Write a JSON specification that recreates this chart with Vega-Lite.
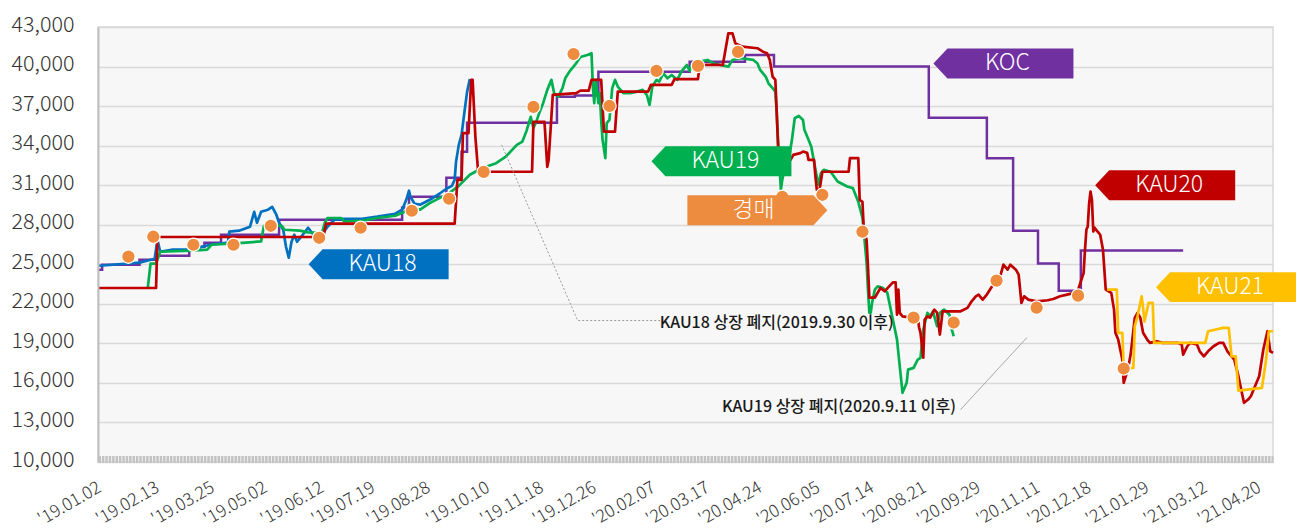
{
  "$schema": "https://vega.github.io/schema/vega-lite/v6.json",
  "width": 1175,
  "height": 435,
  "autosize": {"type": "none"},
  "padding": {"left": 98, "top": 27, "right": 24, "bottom": 69},
  "background": "white",
  "config": {
    "font": "Noto Sans CJK KR",
    "view": {"fill": "#f7f7f7", "stroke": "#d9d9d9", "strokeWidth": 1.5}
  },
  "datasets": {
    "koc": [
      {"date": "2019-01-02", "price": 24590}, {"date": "2019-01-04", "price": 24970},
      {"date": "2019-01-31", "price": 25350}, {"date": "2019-02-12", "price": 25650},
      {"date": "2019-03-08", "price": 26330}, {"date": "2019-03-19", "price": 26640},
      {"date": "2019-03-31", "price": 27240}, {"date": "2019-05-12", "price": 28380},
      {"date": "2019-08-09", "price": 29290}, {"date": "2019-08-14", "price": 30120},
      {"date": "2019-09-10", "price": 31560}, {"date": "2019-09-21", "price": 33530},
      {"date": "2019-09-25", "price": 35730}, {"date": "2019-11-29", "price": 37700},
      {"date": "2019-12-12", "price": 37800}, {"date": "2019-12-29", "price": 39610},
      {"date": "2020-03-04", "price": 40370}, {"date": "2020-04-13", "price": 40880},
      {"date": "2020-05-04", "price": 40000}, {"date": "2020-08-24", "price": 36110},
      {"date": "2020-10-05", "price": 33050}, {"date": "2020-10-24", "price": 27550},
      {"date": "2020-11-11", "price": 25050}, {"date": "2020-11-26", "price": 23000},
      {"date": "2020-12-12", "price": 26050}, {"date": "2021-02-24", "price": 26050}
    ],
    "kau18": [
      {"date": "2019-01-02", "price": 24890}, {"date": "2019-01-31", "price": 25120},
      {"date": "2019-02-11", "price": 25420}, {"date": "2019-02-13", "price": 26860},
      {"date": "2019-02-15", "price": 25950}, {"date": "2019-02-24", "price": 26110},
      {"date": "2019-03-08", "price": 26110}, {"date": "2019-03-15", "price": 26260},
      {"date": "2019-03-23", "price": 26480}, {"date": "2019-04-05", "price": 26640},
      {"date": "2019-04-06", "price": 27470}, {"date": "2019-04-13", "price": 27550},
      {"date": "2019-04-17", "price": 27700}, {"date": "2019-04-21", "price": 27850},
      {"date": "2019-04-24", "price": 28980}, {"date": "2019-04-26", "price": 28150},
      {"date": "2019-04-29", "price": 28980}, {"date": "2019-05-04", "price": 29140},
      {"date": "2019-05-07", "price": 29360}, {"date": "2019-05-10", "price": 28760},
      {"date": "2019-05-12", "price": 28150}, {"date": "2019-05-15", "price": 27620},
      {"date": "2019-05-17", "price": 26330}, {"date": "2019-05-19", "price": 25500},
      {"date": "2019-05-21", "price": 26710}, {"date": "2019-05-23", "price": 27240},
      {"date": "2019-05-25", "price": 26710}, {"date": "2019-05-28", "price": 27090},
      {"date": "2019-06-02", "price": 27770}, {"date": "2019-06-07", "price": 27090},
      {"date": "2019-06-12", "price": 27240}, {"date": "2019-06-16", "price": 27850},
      {"date": "2019-06-21", "price": 28380}, {"date": "2019-06-28", "price": 28450},
      {"date": "2019-07-11", "price": 28450}, {"date": "2019-07-22", "price": 28610},
      {"date": "2019-08-04", "price": 28830}, {"date": "2019-08-09", "price": 29140},
      {"date": "2019-08-12", "price": 29890}, {"date": "2019-08-14", "price": 30580},
      {"date": "2019-08-15", "price": 30120}, {"date": "2019-08-18", "price": 29590},
      {"date": "2019-08-22", "price": 29520}, {"date": "2019-08-29", "price": 29890},
      {"date": "2019-09-05", "price": 30350}, {"date": "2019-09-10", "price": 30730},
      {"date": "2019-09-14", "price": 30950}, {"date": "2019-09-16", "price": 31410},
      {"date": "2019-09-17", "price": 32770}, {"date": "2019-09-19", "price": 34060},
      {"date": "2019-09-21", "price": 34820}, {"date": "2019-09-23", "price": 36480},
      {"date": "2019-09-25", "price": 38080}, {"date": "2019-09-27", "price": 39060}
    ],
    "kau19": [
      {"date": "2019-02-06", "price": 23200}, {"date": "2019-02-08", "price": 25050},
      {"date": "2019-02-12", "price": 25050}, {"date": "2019-02-15", "price": 25950},
      {"date": "2019-03-10", "price": 26030}, {"date": "2019-03-21", "price": 26110},
      {"date": "2019-03-24", "price": 26480}, {"date": "2019-04-13", "price": 26610},
      {"date": "2019-04-29", "price": 26730}, {"date": "2019-05-01", "price": 27920},
      {"date": "2019-05-14", "price": 27920}, {"date": "2019-05-16", "price": 27620},
      {"date": "2019-05-27", "price": 27550}, {"date": "2019-06-02", "price": 27420},
      {"date": "2019-06-12", "price": 27370}, {"date": "2019-06-14", "price": 28130},
      {"date": "2019-06-16", "price": 28510}, {"date": "2019-06-26", "price": 28510},
      {"date": "2019-06-28", "price": 28250}, {"date": "2019-07-11", "price": 28300},
      {"date": "2019-07-22", "price": 28510}, {"date": "2019-08-04", "price": 28680},
      {"date": "2019-08-11", "price": 28980}, {"date": "2019-08-14", "price": 29515},
      {"date": "2019-08-18", "price": 29290}, {"date": "2019-08-22", "price": 29140},
      {"date": "2019-08-29", "price": 29640}, {"date": "2019-09-05", "price": 30020},
      {"date": "2019-09-12", "price": 30400}, {"date": "2019-09-19", "price": 30950},
      {"date": "2019-09-27", "price": 31790}, {"date": "2019-10-06", "price": 32300},
      {"date": "2019-10-16", "price": 32670}, {"date": "2019-10-23", "price": 33170},
      {"date": "2019-10-31", "price": 34060}, {"date": "2019-11-04", "price": 34310},
      {"date": "2019-11-07", "price": 35120}, {"date": "2019-11-10", "price": 36180},
      {"date": "2019-11-12", "price": 35350}, {"date": "2019-11-14", "price": 35800},
      {"date": "2019-11-16", "price": 36410}, {"date": "2019-11-19", "price": 37220},
      {"date": "2019-11-22", "price": 38230}, {"date": "2019-11-25", "price": 38990},
      {"date": "2019-11-27", "price": 37980}, {"date": "2019-11-30", "price": 37720},
      {"date": "2019-12-03", "price": 38360}, {"date": "2019-12-05", "price": 39110},
      {"date": "2019-12-08", "price": 39610}, {"date": "2019-12-12", "price": 40120},
      {"date": "2019-12-16", "price": 40730}, {"date": "2019-12-21", "price": 40880},
      {"date": "2019-12-24", "price": 41010}, {"date": "2019-12-25", "price": 38480},
      {"date": "2019-12-26", "price": 37220}, {"date": "2019-12-27", "price": 38990},
      {"date": "2019-12-29", "price": 37220}, {"date": "2019-12-30", "price": 37980},
      {"date": "2019-12-31", "price": 35950}, {"date": "2020-01-01", "price": 34440},
      {"date": "2020-01-03", "price": 33050}, {"date": "2020-01-04", "price": 35700},
      {"date": "2020-01-06", "price": 35950}, {"date": "2020-01-08", "price": 38360},
      {"date": "2020-01-10", "price": 38990}, {"date": "2020-01-12", "price": 38480},
      {"date": "2020-01-16", "price": 37980}, {"date": "2020-01-21", "price": 37980},
      {"date": "2020-01-26", "price": 38100}, {"date": "2020-01-30", "price": 38230},
      {"date": "2020-02-02", "price": 37850}, {"date": "2020-02-04", "price": 37090},
      {"date": "2020-02-06", "price": 38480}, {"date": "2020-02-09", "price": 38990},
      {"date": "2020-02-11", "price": 38860}, {"date": "2020-02-14", "price": 39490},
      {"date": "2020-02-17", "price": 39110}, {"date": "2020-02-20", "price": 39360},
      {"date": "2020-02-24", "price": 38990}, {"date": "2020-02-27", "price": 39610},
      {"date": "2020-03-02", "price": 40120}, {"date": "2020-03-04", "price": 39670},
      {"date": "2020-03-06", "price": 40250}, {"date": "2020-03-11", "price": 40370},
      {"date": "2020-03-17", "price": 40500}, {"date": "2020-03-21", "price": 40250},
      {"date": "2020-03-26", "price": 40120}, {"date": "2020-04-01", "price": 39990},
      {"date": "2020-04-04", "price": 40500}, {"date": "2020-04-10", "price": 40630},
      {"date": "2020-04-19", "price": 40500}, {"date": "2020-04-22", "price": 40250},
      {"date": "2020-04-24", "price": 39740}, {"date": "2020-04-28", "price": 39240},
      {"date": "2020-04-30", "price": 38730}, {"date": "2020-05-03", "price": 38360},
      {"date": "2020-05-05", "price": 38100}, {"date": "2020-05-06", "price": 36480},
      {"date": "2020-05-07", "price": 34210}, {"date": "2020-05-09", "price": 30650},
      {"date": "2020-05-10", "price": 31410}, {"date": "2020-05-12", "price": 32390},
      {"date": "2020-05-15", "price": 33150}, {"date": "2020-05-17", "price": 34440},
      {"date": "2020-05-19", "price": 36080}, {"date": "2020-05-22", "price": 36260},
      {"date": "2020-05-25", "price": 35950}, {"date": "2020-05-26", "price": 35200},
      {"date": "2020-05-29", "price": 34440}, {"date": "2020-05-31", "price": 33910},
      {"date": "2020-06-02", "price": 32770}, {"date": "2020-06-05", "price": 31030},
      {"date": "2020-06-07", "price": 31920}, {"date": "2020-06-09", "price": 32170},
      {"date": "2020-06-14", "price": 32020}, {"date": "2020-06-19", "price": 31280},
      {"date": "2020-06-26", "price": 30900}, {"date": "2020-06-30", "price": 30780},
      {"date": "2020-07-04", "price": 29740}, {"date": "2020-07-07", "price": 28530},
      {"date": "2020-07-08", "price": 27470}, {"date": "2020-07-10", "price": 25120},
      {"date": "2020-07-11", "price": 23080}, {"date": "2020-07-12", "price": 21330},
      {"date": "2020-07-13", "price": 21330}, {"date": "2020-07-14", "price": 22090},
      {"date": "2020-07-16", "price": 23080}, {"date": "2020-07-18", "price": 23330},
      {"date": "2020-07-22", "price": 23200}, {"date": "2020-07-25", "price": 22830},
      {"date": "2020-07-27", "price": 21810}, {"date": "2020-07-29", "price": 20800},
      {"date": "2020-08-01", "price": 19290}, {"date": "2020-08-03", "price": 17260},
      {"date": "2020-08-05", "price": 15250}, {"date": "2020-08-08", "price": 16010},
      {"date": "2020-08-09", "price": 17010}, {"date": "2020-08-13", "price": 17140},
      {"date": "2020-08-16", "price": 17770}, {"date": "2020-08-18", "price": 17900},
      {"date": "2020-08-20", "price": 20045}, {"date": "2020-08-23", "price": 21310},
      {"date": "2020-08-25", "price": 21050}, {"date": "2020-08-27", "price": 21430},
      {"date": "2020-08-30", "price": 20300}, {"date": "2020-09-01", "price": 21310},
      {"date": "2020-09-04", "price": 21560}, {"date": "2020-09-08", "price": 21180},
      {"date": "2020-09-09", "price": 20300}, {"date": "2020-09-11", "price": 19540}
    ],
    "kau20": [
      {"date": "2019-01-02", "price": 23200}, {"date": "2019-02-12", "price": 23200},
      {"date": "2019-02-13", "price": 27070}, {"date": "2019-06-13", "price": 27070},
      {"date": "2019-06-15", "price": 28080}, {"date": "2019-09-16", "price": 28080},
      {"date": "2019-09-18", "price": 31410}, {"date": "2019-09-21", "price": 31410},
      {"date": "2019-09-22", "price": 34950}, {"date": "2019-09-26", "price": 34950},
      {"date": "2019-09-28", "price": 38990}, {"date": "2019-09-29", "price": 38990},
      {"date": "2019-10-01", "price": 34670}, {"date": "2019-10-03", "price": 32020},
      {"date": "2019-11-11", "price": 32020}, {"date": "2019-11-12", "price": 35800},
      {"date": "2019-11-20", "price": 35800}, {"date": "2019-11-22", "price": 32390},
      {"date": "2019-11-23", "price": 32920}, {"date": "2019-11-26", "price": 37850},
      {"date": "2019-12-13", "price": 37980}, {"date": "2019-12-16", "price": 38170},
      {"date": "2019-12-22", "price": 38170}, {"date": "2019-12-24", "price": 38990},
      {"date": "2019-12-31", "price": 38990}, {"date": "2020-01-02", "price": 35070},
      {"date": "2020-01-10", "price": 35070}, {"date": "2020-01-12", "price": 38100},
      {"date": "2020-02-03", "price": 38100}, {"date": "2020-02-05", "price": 38610},
      {"date": "2020-02-20", "price": 38610}, {"date": "2020-02-22", "price": 39040},
      {"date": "2020-03-10", "price": 39040}, {"date": "2020-03-11", "price": 39870},
      {"date": "2020-03-14", "price": 40120}, {"date": "2020-03-28", "price": 40120},
      {"date": "2020-04-01", "price": 42520}, {"date": "2020-04-04", "price": 42520},
      {"date": "2020-04-06", "price": 41770}, {"date": "2020-04-11", "price": 41510},
      {"date": "2020-04-22", "price": 41390}, {"date": "2020-04-26", "price": 41130},
      {"date": "2020-04-29", "price": 41010}, {"date": "2020-05-01", "price": 40500},
      {"date": "2020-05-03", "price": 39240}, {"date": "2020-05-05", "price": 38990},
      {"date": "2020-05-07", "price": 33930}, {"date": "2020-05-08", "price": 32545},
      {"date": "2020-05-16", "price": 32920}, {"date": "2020-05-18", "price": 33300},
      {"date": "2020-05-23", "price": 33430}, {"date": "2020-05-25", "price": 33550},
      {"date": "2020-05-28", "price": 33450}, {"date": "2020-05-29", "price": 32920},
      {"date": "2020-06-02", "price": 32920}, {"date": "2020-06-03", "price": 31640},
      {"date": "2020-06-04", "price": 30650}, {"date": "2020-06-06", "price": 30650},
      {"date": "2020-06-08", "price": 32020}, {"date": "2020-06-27", "price": 32020},
      {"date": "2020-06-28", "price": 33050}, {"date": "2020-07-04", "price": 33050},
      {"date": "2020-07-05", "price": 29890}, {"date": "2020-07-07", "price": 29740},
      {"date": "2020-07-08", "price": 27620}, {"date": "2020-07-10", "price": 26860},
      {"date": "2020-07-11", "price": 24820}, {"date": "2020-07-12", "price": 22470},
      {"date": "2020-07-16", "price": 22470}, {"date": "2020-07-20", "price": 23200},
      {"date": "2020-07-23", "price": 22950}, {"date": "2020-07-29", "price": 23630},
      {"date": "2020-07-31", "price": 23630}, {"date": "2020-08-01", "price": 21180},
      {"date": "2020-08-02", "price": 23080}, {"date": "2020-08-03", "price": 21310},
      {"date": "2020-08-05", "price": 21050}, {"date": "2020-08-13", "price": 20930},
      {"date": "2020-08-16", "price": 20950}, {"date": "2020-08-17", "price": 20200},
      {"date": "2020-08-18", "price": 19800}, {"date": "2020-08-20", "price": 17920},
      {"date": "2020-08-21", "price": 20800}, {"date": "2020-08-23", "price": 21050},
      {"date": "2020-08-25", "price": 20950}, {"date": "2020-08-28", "price": 21560},
      {"date": "2020-08-30", "price": 21330}, {"date": "2020-09-01", "price": 19670},
      {"date": "2020-09-03", "price": 21430}, {"date": "2020-09-08", "price": 21430},
      {"date": "2020-09-16", "price": 21430}, {"date": "2020-09-21", "price": 21690},
      {"date": "2020-09-24", "price": 22190}, {"date": "2020-09-27", "price": 22570},
      {"date": "2020-09-29", "price": 22700}, {"date": "2020-10-02", "price": 22320},
      {"date": "2020-10-05", "price": 22700}, {"date": "2020-10-11", "price": 23700},
      {"date": "2020-10-15", "price": 24210}, {"date": "2020-10-17", "price": 24970},
      {"date": "2020-10-20", "price": 24590}, {"date": "2020-10-22", "price": 24970},
      {"date": "2020-10-26", "price": 24590}, {"date": "2020-10-28", "price": 24210},
      {"date": "2020-10-30", "price": 22070}, {"date": "2020-11-01", "price": 22570},
      {"date": "2020-11-04", "price": 22320}, {"date": "2020-11-10", "price": 22190},
      {"date": "2020-11-18", "price": 22270}, {"date": "2020-11-22", "price": 22370},
      {"date": "2020-11-27", "price": 22570}, {"date": "2020-12-02", "price": 22700},
      {"date": "2020-12-07", "price": 22830}, {"date": "2020-12-10", "price": 23080},
      {"date": "2020-12-12", "price": 23700}, {"date": "2020-12-14", "price": 24340},
      {"date": "2020-12-15", "price": 26110}, {"date": "2020-12-16", "price": 27620},
      {"date": "2020-12-17", "price": 27870}, {"date": "2020-12-18", "price": 29640},
      {"date": "2020-12-19", "price": 30520}, {"date": "2020-12-20", "price": 29900},
      {"date": "2020-12-21", "price": 27490}, {"date": "2020-12-22", "price": 27770},
      {"date": "2020-12-24", "price": 27490}, {"date": "2020-12-26", "price": 27240},
      {"date": "2020-12-28", "price": 26110}, {"date": "2020-12-29", "price": 24590},
      {"date": "2020-12-30", "price": 23080}, {"date": "2021-01-03", "price": 22830},
      {"date": "2021-01-05", "price": 21560}, {"date": "2021-01-06", "price": 19800},
      {"date": "2021-01-08", "price": 19290}, {"date": "2021-01-11", "price": 17770},
      {"date": "2021-01-12", "price": 16010}, {"date": "2021-01-15", "price": 17010},
      {"date": "2021-01-17", "price": 18150}, {"date": "2021-01-18", "price": 19040},
      {"date": "2021-01-20", "price": 20930}, {"date": "2021-01-22", "price": 21310},
      {"date": "2021-01-24", "price": 20950}, {"date": "2021-01-26", "price": 19800},
      {"date": "2021-01-29", "price": 19290}, {"date": "2021-01-31", "price": 19040},
      {"date": "2021-02-05", "price": 19160}, {"date": "2021-02-09", "price": 19040},
      {"date": "2021-02-20", "price": 19040}, {"date": "2021-02-23", "price": 18910},
      {"date": "2021-02-24", "price": 18150}, {"date": "2021-02-27", "price": 18780},
      {"date": "2021-03-01", "price": 19040}, {"date": "2021-03-06", "price": 18910},
      {"date": "2021-03-08", "price": 18400}, {"date": "2021-03-11", "price": 18020},
      {"date": "2021-03-14", "price": 18400}, {"date": "2021-03-18", "price": 18780},
      {"date": "2021-03-22", "price": 19040}, {"date": "2021-03-25", "price": 19040},
      {"date": "2021-03-28", "price": 18400}, {"date": "2021-04-02", "price": 17770},
      {"date": "2021-04-05", "price": 16510}, {"date": "2021-04-07", "price": 15500},
      {"date": "2021-04-09", "price": 14490}, {"date": "2021-04-12", "price": 14740},
      {"date": "2021-04-14", "price": 14990}, {"date": "2021-04-16", "price": 15500},
      {"date": "2021-04-20", "price": 16510}, {"date": "2021-04-23", "price": 18530},
      {"date": "2021-04-26", "price": 19920}, {"date": "2021-04-28", "price": 18400},
      {"date": "2021-04-30", "price": 18280}
    ],
    "kau21": [
      {"date": "2020-12-31", "price": 23080}, {"date": "2021-01-07", "price": 23080},
      {"date": "2021-01-08", "price": 19800}, {"date": "2021-01-11", "price": 19800},
      {"date": "2021-01-12", "price": 17140}, {"date": "2021-01-19", "price": 17140},
      {"date": "2021-01-20", "price": 20300}, {"date": "2021-01-22", "price": 21050},
      {"date": "2021-01-25", "price": 22570}, {"date": "2021-01-26", "price": 21710},
      {"date": "2021-01-27", "price": 20650}, {"date": "2021-01-30", "price": 22070},
      {"date": "2021-02-02", "price": 22070}, {"date": "2021-02-03", "price": 19040},
      {"date": "2021-03-12", "price": 19040}, {"date": "2021-03-14", "price": 19920},
      {"date": "2021-03-25", "price": 20170}, {"date": "2021-03-29", "price": 20170},
      {"date": "2021-03-31", "price": 18020}, {"date": "2021-04-03", "price": 18020},
      {"date": "2021-04-05", "price": 15420}, {"date": "2021-04-22", "price": 15630},
      {"date": "2021-04-25", "price": 17770}, {"date": "2021-04-27", "price": 19920},
      {"date": "2021-04-30", "price": 19920}
    ],
    "auctions": [
      {"date": "2019-01-23", "price": 25580}, {"date": "2019-02-10", "price": 27090},
      {"date": "2019-03-11", "price": 26480}, {"date": "2019-04-09", "price": 26480},
      {"date": "2019-05-06", "price": 27920}, {"date": "2019-06-10", "price": 27010},
      {"date": "2019-07-10", "price": 27770}, {"date": "2019-08-16", "price": 29060},
      {"date": "2019-09-12", "price": 29970}, {"date": "2019-10-07", "price": 32010},
      {"date": "2019-11-12", "price": 36940}, {"date": "2019-12-11", "price": 40950},
      {"date": "2020-01-06", "price": 37010}, {"date": "2020-02-09", "price": 39670},
      {"date": "2020-03-10", "price": 40050}, {"date": "2020-04-08", "price": 41110},
      {"date": "2020-05-10", "price": 30120}, {"date": "2020-06-08", "price": 30270},
      {"date": "2020-07-07", "price": 27470}, {"date": "2020-08-13", "price": 20950},
      {"date": "2020-09-11", "price": 20580}, {"date": "2020-10-12", "price": 23760},
      {"date": "2020-11-10", "price": 21710}, {"date": "2020-12-10", "price": 22620},
      {"date": "2021-01-12", "price": 17090}
    ],
    "leaders": [
      {"seg": "a", "date": "2019-10-20", "price": 34060},
      {"seg": "a", "date": "2019-12-14", "price": 20730},
      {"seg": "a", "date": "2020-02-12", "price": 20730},
      {"seg": "b", "date": "2020-09-16", "price": 13980},
      {"seg": "b", "date": "2020-11-03", "price": 19440}
    ],
    "notes": [
      {"date": "2020-05-06", "price": 20575, "text": "KAU18 상장 폐지(2019.9.30 이후)"},
      {"date": "2020-06-20", "price": 14135, "text": "KAU19 상장 폐지(2020.9.11 이후)"}
    ],
    "tags": [
      {"date": "2019-07-23", "price": 25000, "label": "KAU18", "dir": "left"},
      {"date": "2020-03-27", "price": 32810, "label": "KAU19", "dir": "left"},
      {"date": "2020-04-22", "price": 29100, "label": "경매", "dir": "right"},
      {"date": "2020-10-17", "price": 40235, "label": "KOC", "dir": "left"},
      {"date": "2021-02-11", "price": 30990, "label": "KAU20", "dir": "left"},
      {"date": "2021-03-27", "price": 23265, "label": "KAU21", "dir": "left"}
    ]
  },
  "encoding": {
    "x": {
      "field": "date",
      "type": "temporal",
      "scale": {
        "type": "utc",
        "domain": [
          {"year": 2019, "month": 1, "date": 1, "utc": true},
          {"year": 2021, "month": 4, "date": 30, "utc": true}
        ]
      },
      "axis": {
        "title": null,
        "values": [
          {"year": 2019, "month": 1, "date": 2, "utc": true},
          {"year": 2019, "month": 2, "date": 13, "utc": true},
          {"year": 2019, "month": 3, "date": 25, "utc": true},
          {"year": 2019, "month": 5, "date": 2, "utc": true},
          {"year": 2019, "month": 6, "date": 12, "utc": true},
          {"year": 2019, "month": 7, "date": 19, "utc": true},
          {"year": 2019, "month": 8, "date": 28, "utc": true},
          {"year": 2019, "month": 10, "date": 10, "utc": true},
          {"year": 2019, "month": 11, "date": 18, "utc": true},
          {"year": 2019, "month": 12, "date": 26, "utc": true},
          {"year": 2020, "month": 2, "date": 7, "utc": true},
          {"year": 2020, "month": 3, "date": 17, "utc": true},
          {"year": 2020, "month": 4, "date": 24, "utc": true},
          {"year": 2020, "month": 6, "date": 5, "utc": true},
          {"year": 2020, "month": 7, "date": 14, "utc": true},
          {"year": 2020, "month": 8, "date": 21, "utc": true},
          {"year": 2020, "month": 9, "date": 29, "utc": true},
          {"year": 2020, "month": 11, "date": 11, "utc": true},
          {"year": 2020, "month": 12, "date": 18, "utc": true},
          {"year": 2021, "month": 1, "date": 29, "utc": true},
          {"year": 2021, "month": 3, "date": 12, "utc": true},
          {"year": 2021, "month": 4, "date": 20, "utc": true}
        ],
        "format": "'%y.%m.%d",
        "labelAngle": -30,
        "labelAlign": "right",
        "labelBaseline": "middle",
        "labelPadding": 27,
        "labelFontSize": 17.5,
        "labelFontWeight": 300,
        "labelColor": "#333333",
        "labelOverlap": false,
        "labelFlush": false,
        "labelBound": false,
        "ticks": false,
        "tickSize": 0,
        "grid": false,
        "domainColor": "#c3c3c3",
        "domainWidth": 7,
        "domainDash": [2.5, 0.9],
        "offset": -3
      }
    },
    "y": {
      "field": "price",
      "type": "quantitative",
      "scale": {"domain": [10000, 43000], "nice": false, "zero": false},
      "axis": {
        "title": null,
        "values": [10000, 13000, 16000, 19000, 22000, 25000, 28000, 31000, 34000, 37000, 40000, 43000],
        "format": ",d",
        "grid": true,
        "gridColor": "#d9d9d9",
        "gridWidth": 1.3,
        "domainColor": "#bfbfbf",
        "domainWidth": 2,
        "ticks": false,
        "tickSize": 0,
        "labelPadding": 24,
        "labelFontSize": 21.5,
        "labelFontWeight": 300,
        "labelColor": "#333333",
        "labelFlush": false,
        "labelOverlap": false,
        "labelOffset": -2
      }
    }
  },
  "layer": [
    {"data": {"name": "koc"}, "mark": {"type": "line", "interpolate": "step-after", "color": "#7030A0", "strokeWidth": 2.5}, "encoding": {}},
    {"data": {"name": "kau18"}, "mark": {"type": "line", "color": "#0070C0", "strokeWidth": 2.7, "strokeJoin": "round"}, "encoding": {}},
    {"data": {"name": "kau19"}, "mark": {"type": "line", "color": "#00B050", "strokeWidth": 2.7, "strokeJoin": "round"}, "encoding": {}},
    {"data": {"name": "kau20"}, "mark": {"type": "line", "color": "#C00000", "strokeWidth": 2.7, "strokeJoin": "round"}, "encoding": {}},
    {"data": {"name": "kau21"}, "mark": {"type": "line", "color": "#FFC000", "strokeWidth": 2.7, "strokeJoin": "round"}, "encoding": {}},
    {"data": {"name": "auctions"}, "mark": {"type": "point", "shape": "circle", "filled": true, "size": 180, "fill": "#ED8B3E", "stroke": "#ffffff", "strokeWidth": 1.2, "opacity": 1}, "encoding": {}},
    {"data": {"name": "leaders"}, "mark": {"type": "line", "color": "#9a9a9a", "strokeWidth": 1}, "encoding": {"detail": {"field": "seg"}, "strokeDash": {"field": "seg", "type": "nominal", "scale": {"domain": ["a", "b"], "range": [[2, 2], [1, 0]]}, "legend": null}}},
    {"data": {"name": "notes"}, "mark": {"type": "text", "align": "center", "baseline": "middle", "fontSize": 16, "fontWeight": 500, "color": "#1a1a1a"}, "encoding": {"text": {"field": "text"}}},
    {"data": {"name": "tags"}, "transform": [{"filter": {"field": "dir", "equal": "left"}}], "mark": {"type": "point", "shape": "M-1,0L-0.8,-0.214L1,-0.214L1,0.214L-0.8,0.214Z", "filled": true, "size": 19600, "opacity": 1, "strokeWidth": 0}, "encoding": {"color": {"field": "label", "type": "nominal", "scale": {"domain": ["KAU18", "KAU19", "경매", "KOC", "KAU20", "KAU21"], "range": ["#0070C0", "#00B050", "#ED8B3E", "#7030A0", "#C00000", "#FFC000"]}, "legend": null}}},
    {"data": {"name": "tags"}, "transform": [{"filter": {"field": "dir", "equal": "right"}}], "mark": {"type": "point", "shape": "M1,0L0.8,-0.214L-1,-0.214L-1,0.214L0.8,0.214Z", "filled": true, "size": 19600, "opacity": 1, "strokeWidth": 0}, "encoding": {"color": {"field": "label", "type": "nominal", "legend": null}}},
    {"data": {"name": "tags"}, "transform": [{"filter": {"field": "dir", "equal": "left"}}], "mark": {"type": "text", "align": "center", "baseline": "middle", "dx": 4, "fontSize": 23, "fontWeight": 300, "color": "#ffffff"}, "encoding": {"text": {"field": "label"}}},
    {"data": {"name": "tags"}, "transform": [{"filter": {"field": "dir", "equal": "right"}}], "mark": {"type": "text", "align": "center", "baseline": "middle", "dx": -4, "fontSize": 23, "fontWeight": 300, "color": "#ffffff"}, "encoding": {"text": {"field": "label"}}}
  ]
}
